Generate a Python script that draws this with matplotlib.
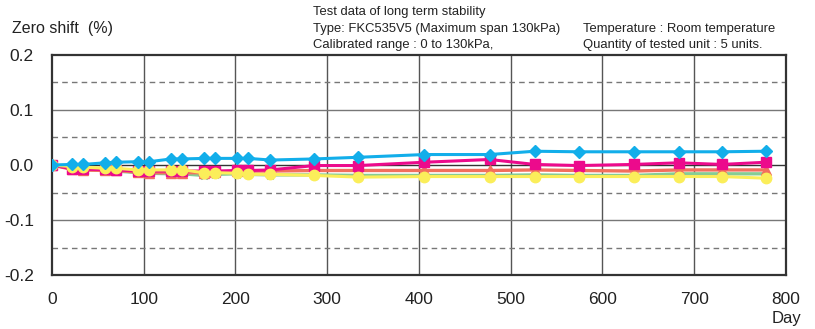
import matplotlib
matplotlib.use('Agg')
import matplotlib.pyplot as plt
from matplotlib import font_manager

# font for the header texts: narrow if we have it
names = set(f.name for f in font_manager.fontManager.ttflist)
narrow = 'Liberation Sans Narrow' if 'Liberation Sans Narrow' in names else 'Liberation Sans'
plt.rcParams['font.family'] = ['Liberation Sans', 'DejaVu Sans']

# data
days = [0, 22, 34, 58, 70, 94, 106, 130, 142, 166, 178, 202, 214, 238,
        286, 334, 406, 477, 526, 574, 634, 683, 730, 778]
unit_blue = [0, 0.001, 0.001, 0.004, 0.005, 0.006, 0.006, 0.011, 0.011, 0.012, 0.012, 0.012, 0.012, 0.009,
             0.011, 0.014, 0.019, 0.019, 0.025, 0.024, 0.024, 0.024, 0.024, 0.025]
unit_magenta = [0, -0.007, -0.008, -0.008, -0.009, -0.011, -0.011, -0.011, -0.011, -0.011, -0.011, -0.010, -0.010, -0.009,
                -0.001, -0.001, 0.005, 0.010, 0.001, -0.001, 0.001, 0.004, 0.001, 0.005]
unit_red = [0, -0.008, -0.009, -0.010, -0.010, -0.013, -0.014, -0.014, -0.014, -0.014, -0.013, -0.011, -0.011, -0.011,
            -0.010, -0.010, -0.010, -0.010, -0.009, -0.010, -0.011, -0.009, -0.009, -0.009]
unit_green = [0, -0.006, -0.008, -0.010, -0.011, -0.014, -0.015, -0.016, -0.016, -0.019, -0.017, -0.016, -0.017, -0.018,
              -0.018, -0.019, -0.019, -0.019, -0.018, -0.019, -0.019, -0.016, -0.016, -0.016]
unit_yellow = [0, -0.003, -0.004, -0.006, -0.006, -0.009, -0.009, -0.009, -0.009, -0.014, -0.014, -0.015, -0.017, -0.017,
               -0.019, -0.022, -0.021, -0.021, -0.021, -0.021, -0.021, -0.021, -0.021, -0.024]

x_ticks = [0, 100, 200, 300, 400, 500, 600, 700, 800]
y_ticks = [-0.2, -0.1, 0.0, 0.1, 0.2]
y_dashed = [-0.15, -0.05, 0.05, 0.15]

fig = plt.figure(figsize=(8.15, 3.29), dpi=100)
ax = fig.add_axes([0.0638, 0.164, 0.9006, 0.669])

# grid
for x in x_ticks[1:-1]:
    ax.axvline(x, color='#555555', lw=1.0, zorder=1)
for y in [-0.1, 0.1]:
    ax.axhline(y, color='#777777', lw=1.0, zorder=1)
ax.axhline(0.0, color='#333333', lw=1.0, zorder=1)
for y in y_dashed:
    ax.axhline(y, color='#777777', lw=1.0, ls=(0, (4, 3)), zorder=1)

# series (draw order: back to front)
ax.plot(days, unit_green, color='#86CC94', lw=2.4, marker='*', ms=6.5, zorder=3)
ax.plot(days, unit_red, color='#F26F5E', lw=2.4, marker='^', ms=6.5, zorder=4)
ax.plot(days, unit_magenta, color='#EC0A8C', lw=2.2, marker='s', ms=6.5, zorder=5)
ax.plot(days, unit_yellow, color='#FBEE5A', lw=2.2, marker='o', ms=7.5, zorder=6)
ax.plot(days, unit_blue, color='#12AEEA', lw=2.2, marker='D', ms=6.5, zorder=7)

ax.set_xlim(0, 800)
ax.set_ylim(-0.2, 0.2)
ax.set_xticks(x_ticks)
ax.set_yticks(y_ticks)
ax.set_yticklabels(['-0.2', '-0.1', '0.0', '0.1', '0.2'])
ax.tick_params(length=0, labelsize=12.5, colors='#222222')
ax.tick_params(axis='y', pad=13)
ax.tick_params(axis='x', pad=12)
for s in ax.spines.values():
    s.set_color('#333333')
    s.set_linewidth(1.6)

hdr = dict(ha='left', va='center', fontsize=9.4, family=[narrow, 'DejaVu Sans'], color='#222222')
fig.text(801 / 815, 1 - 318 / 329, 'Day', ha='right', va='center', fontsize=12, color='#222222')
fig.text(12 / 815, 1 - 28 / 329, 'Zero shift  (%)', ha='left', va='center', fontsize=11.5,
         family=[narrow, 'DejaVu Sans'], color='#222222')
fig.text(313 / 815, 1 - 12 / 329, 'Test data of long term stability', **hdr)
fig.text(313 / 815, 1 - 29 / 329, 'Type: FKC535V5 (Maximum span 130kPa)', **hdr)
fig.text(313 / 815, 1 - 45 / 329, 'Calibrated range : 0 to 130kPa,', **hdr)
fig.text(583 / 815, 1 - 29 / 329, 'Temperature : Room temperature', **hdr)
fig.text(583 / 815, 1 - 45 / 329, 'Quantity of tested unit : 5 units.', **hdr)

plt.savefig('out.png', dpi=100)
plt.close(fig)
